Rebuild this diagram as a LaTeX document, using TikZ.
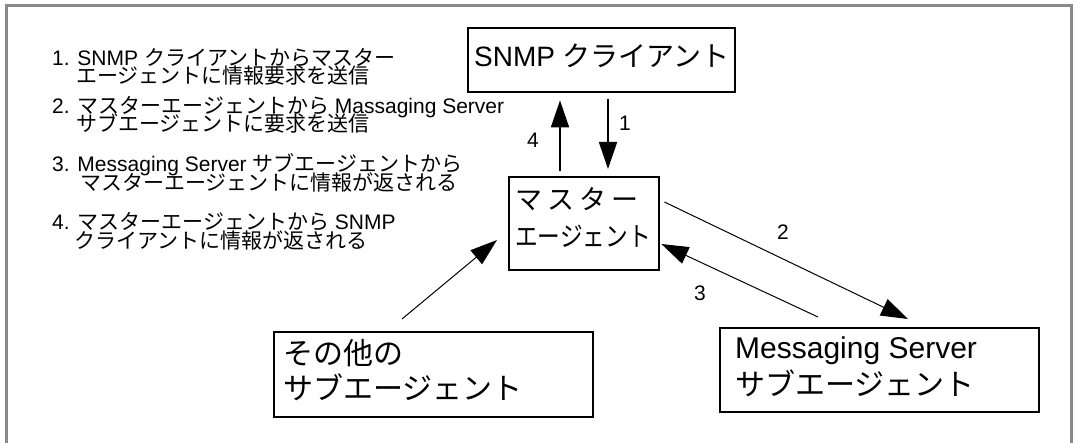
\documentclass[tikz,border=0pt]{standalone}
\usepackage{fontspec}
\setmainfont{Liberation Sans}
\newfontfamily\jp{Noto Sans CJK JP}
\usetikzlibrary{arrows.meta}
\definecolor{frameg}{HTML}{8A8A8A}
\begin{document}
\begin{tikzpicture}[x=1pt,y=-1pt,
  box/.style={draw, line width=2.4pt, inner sep=0pt, anchor=north west},
  txt/.style={inner sep=0pt, anchor=base west},
  listtxt/.style={txt, font=\fontsize{21}{21}\selectfont},
  lbl/.style={inner sep=0pt, font=\fontsize{21}{21}\selectfont},
  arr/.style={-{Triangle[length=27pt,width=18pt]}, line width=1pt},
  varr/.style={arr, line width=1.8pt},
  frame/.style={draw=frameg, line width=3pt, line join=miter}]
\useasboundingbox (0,0) rectangle (1075,443);
\draw[frame] (6,445) -- (6,6) -- (1071,6) -- (1071,445);

% list
\node[listtxt] (l1) at (52,66) {1. SNMP {\jp クライアントからマスター}};
\node[listtxt] (l2) at (76,84) {\jp エージェントに情報要求を送信};
\node[listtxt] (l3) at (52,114) {2. {\jp マスターエージェントから} Massaging Server};
\node[listtxt] (l4) at (76,132) {\jp サブエージェントに要求を送信};
\node[listtxt] (l5) at (52,172) {3. Messaging Server {\jp サブエージェントから}};
\node[listtxt] (l6) at (80,191) {\jp マスターエージェントに情報が返される};
\node[listtxt] (l7) at (52,230) {4. {\jp マスターエージェントから} SNMP};
\node[listtxt] (l8) at (74,249) {\jp クライアントに情報が返される};

% boxes
\node[box, minimum width=267pt, minimum height=64pt] (snmp) at (467,27) {};
\node[txt, font=\fontsize{28}{28}\selectfont] (snmpt) at (474,67) {SNMP {\jp クライアント}};

\node[box, minimum width=150pt, minimum height=93pt] (master) at (508,176) {};
\node[txt, font=\fontsize{27}{27}\selectfont\jp] (mt1) at (515,210) {\makebox[123pt][s]{マ\hfill ス\hfill タ\hfill ー}};
\node[txt, font=\fontsize{27}{27}\selectfont\jp] (mt2) at (515,247) {\scalebox{0.84}[1]{エージェント}};

\node[box, minimum width=319pt, minimum height=85pt] (other) at (273,331) {};
\node[txt, font=\fontsize{30}{30}\selectfont\jp] (ot1) at (283,364) {その他の};
\node[txt, font=\fontsize{30}{30}\selectfont\jp] (ot2) at (283,399) {サブエージェント};

\node[box, minimum width=319pt, minimum height=84pt] (msg) at (719,327) {};
\node[txt, font=\fontsize{30}{30}\selectfont] (ms1) at (735,358) {Messaging Server};
\node[txt, font=\fontsize{30}{30}\selectfont\jp] (ms2) at (735,395) {サブエージェント};

% arrows
\draw[varr] ([shift={(52,-5)}]master.north west) -- ([shift={(93,7)}]snmp.south west);
\draw[varr] ([shift={(141,6)}]snmp.south west) -- ([shift={(100,-7)}]master.north west);
\draw[arr] ([shift={(4,26)}]master.north east) -- ([shift={(189,-8)}]msg.north west);
\draw[arr] ([shift={(99,-10)}]msg.north west) -- ([shift={(1,68)}]master.north east);
\draw[arr] ([shift={(129,-12)}]other.north west) -- ([shift={(-11,64)}]master.north west);

% labels
\node[lbl] (n4) at (533,140) {4};
\node[lbl] (n1) at (625,123) {1};
\node[lbl] (n2) at (783,232) {2};
\node[lbl] (n3) at (700,293) {3};
\end{tikzpicture}
\end{document}
